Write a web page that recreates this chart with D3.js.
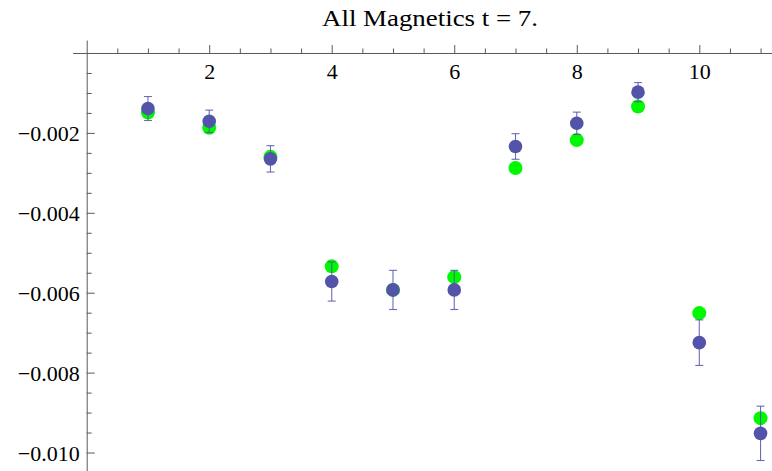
<!DOCTYPE html>
<html>
<head>
<meta charset="utf-8">
<script src="https://cdn.jsdelivr.net/npm/d3@7"></script>
<style>
  html, body { margin: 0; padding: 0; background: #fff; }
  svg { display: block; }
  text { font-family: "Liberation Serif", "DejaVu Serif", serif; fill: #000; }
</style>
</head>
<body>
<svg id="chart" width="772" height="471"></svg>
<script>
// Index of each magnetic measurement
const xs = [1, 2, 3, 4, 5, 6, 7, 8, 9, 10, 11];
// Reference values (green points)
const greenValues = [-0.00149, -0.00187, -0.00260, -0.00534, -0.00593, -0.00561, -0.00288, -0.00218, -0.00134, -0.00651, -0.00914];
// Measured values (blue points) and their error half-widths
const blueValues = [-0.00139, -0.00171, -0.00265, -0.00572, -0.00593, -0.00593, -0.00234, -0.00176, -0.00098, -0.00725, -0.00952];
const blueErrors = [0.00030, 0.00028, 0.00033, 0.00049, 0.00049, 0.00049, 0.00032, 0.00028, 0.00024, 0.00057, 0.00068];
// Tick marks
const xMajorTicks = [2, 4, 6, 8, 10];
const xMinorTicks = [0.5, 1, 1.5, 2.5, 3, 3.5, 4.5, 5, 5.5, 6.5, 7, 7.5, 8.5, 9, 9.5, 10.5, 11];
const yMajorTicks = [0, -0.002, -0.004, -0.006, -0.008, -0.010];
const yMinorTicks = [-0.0005, -0.001, -0.0015, -0.0025, -0.003, -0.0035, -0.0045, -0.005, -0.0055,
                     -0.0065, -0.007, -0.0075, -0.0085, -0.009, -0.0095, -0.0105];
const titleText = "All Magnetics t = 7.";

const svg = d3.select("#chart");

const x = d3.scaleLinear().domain([-0.23, 11.2]).range([72.6, 772.8]);
const y = d3.scaleLinear().domain([0.000325, -0.0105]).range([40, 472.5]);

const axisColor = "#5a5a5a";
const blue = "#5253a9";
const green = "#00f800";

// Title
svg.append("text")
  .attr("x", 430).attr("y", 25.5)
  .attr("text-anchor", "middle")
  .attr("font-size", 23)
  .attr("textLength", 216)
  .attr("lengthAdjust", "spacingAndGlyphs")
  .text(titleText);

// X axis (crossing at y = 0), ticks pointing up, labels below
const gx = svg.append("g").attr("transform", `translate(0,${y(0)})`);
gx.call(d3.axisBottom(x).tickValues(xMinorTicks).tickSize(-4.5).tickSizeOuter(0).tickFormat(""));
gx.call(g => g.selectAll(".domain").remove());
const gx2 = svg.append("g").attr("transform", `translate(0,${y(0)})`);
gx2.call(d3.axisBottom(x).tickValues(xMajorTicks).tickSize(-8).tickSizeOuter(0).tickPadding(10).tickFormat(d3.format("d")));
gx2.selectAll(".domain").attr("stroke", axisColor);
gx2.selectAll("text").attr("font-size", 22).attr("font-family", "Liberation Serif").attr("fill", "#000");

// Y axis (crossing at x = 0), ticks pointing right, labels left
const gy = svg.append("g").attr("transform", `translate(${x(0)},0)`);
gy.call(d3.axisLeft(y).tickValues(yMinorTicks).tickSize(-5).tickSizeOuter(0).tickFormat(""));
gy.call(g => g.selectAll(".domain").remove());
const gy2 = svg.append("g").attr("transform", `translate(${x(0)},0)`);
gy2.call(d3.axisLeft(y).tickValues(yMajorTicks).tickSize(-8).tickSizeOuter(0).tickPadding(7)
  .tickFormat(d => d === 0 ? "" : d3.format(".3f")(d)));
gy2.selectAll(".domain").attr("stroke", axisColor);
gy2.selectAll("text").attr("font-size", 22).attr("font-family", "Liberation Serif").attr("fill", "#000")
  .attr("dy", "0.36em");
svg.selectAll(".tick line").attr("stroke", axisColor);

// Data layer
const plot = svg.append("g");

// Green points
plot.selectAll("circle.green")
  .data(xs.map((d, i) => ({ x: d, v: greenValues[i] })))
  .join("circle")
  .attr("class", "green")
  .attr("cx", d => x(d.x)).attr("cy", d => y(d.v))
  .attr("r", 7)
  .attr("fill", green);

// Blue error bars
const blueData = xs.map((d, i) => ({ x: d, v: blueValues[i], e: blueErrors[i] }));
const eb = plot.selectAll("g.err").data(blueData).join("g").attr("class", "err")
  .attr("stroke", blue).attr("stroke-width", 1.1).attr("stroke-opacity", 0.85);
eb.append("line")
  .attr("x1", d => x(d.x)).attr("x2", d => x(d.x))
  .attr("y1", d => y(d.v - d.e)).attr("y2", d => y(d.v + d.e));
eb.append("line")
  .attr("x1", d => x(d.x) - 4).attr("x2", d => x(d.x) + 4)
  .attr("y1", d => y(d.v + d.e)).attr("y2", d => y(d.v + d.e));
eb.append("line")
  .attr("x1", d => x(d.x) - 4).attr("x2", d => x(d.x) + 4)
  .attr("y1", d => y(d.v - d.e)).attr("y2", d => y(d.v - d.e));

// Blue points
plot.selectAll("circle.blue")
  .data(blueData)
  .join("circle")
  .attr("class", "blue")
  .attr("cx", d => x(d.x)).attr("cy", d => y(d.v))
  .attr("r", 6.8)
  .attr("fill", blue);
</script>
</body>
</html>
